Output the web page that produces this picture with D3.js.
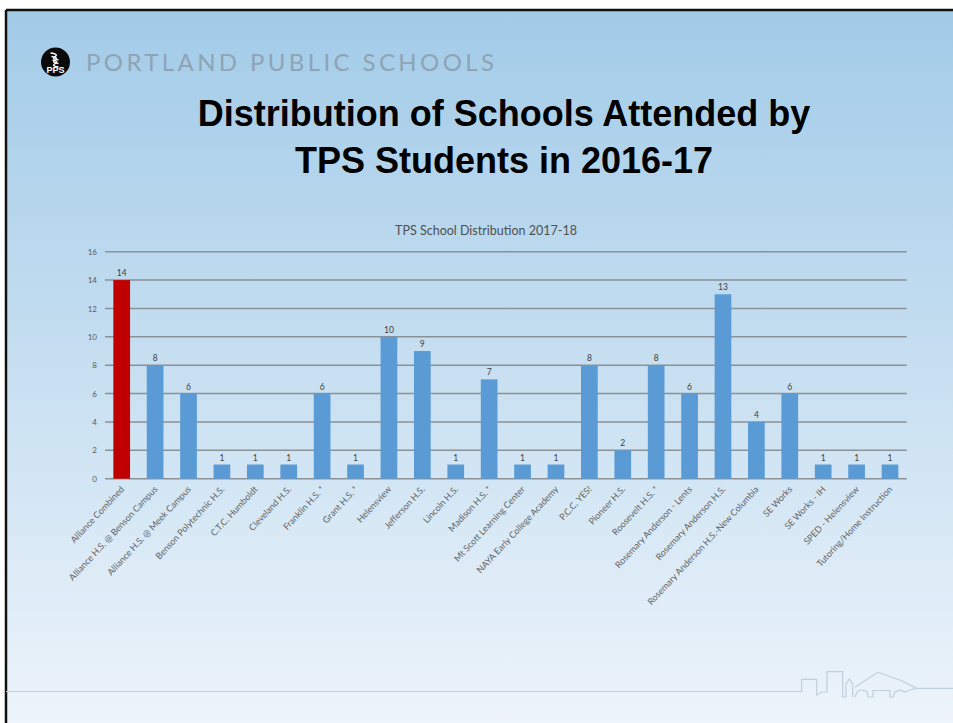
<!DOCTYPE html>
<html>
<head>
<meta charset="utf-8">
<script src="https://cdn.jsdelivr.net/npm/d3@7"></script>
<style>
  html, body { margin: 0; padding: 0; background: #ffffff; }
  svg { display: block; }
</style>
</head>
<body>
<svg id="chart" width="953" height="723"></svg>
<script>
// ---- Data ----
const categories = [
  "Alliance Combined",
  "Alliance H.S. @ Benson Campus",
  "Alliance H.S. @ Meek Campus",
  "Benson Polytechnic H.S.",
  "C.T.C. Humboldt",
  "Cleveland H.S.",
  "Franklin H.S. *",
  "Grant H.S. *",
  "Helensview",
  "Jefferson H.S.",
  "Lincoln H.S.",
  "Madison H.S. *",
  "Mt Scott Learning Center",
  "NAYA Early College Academy",
  "P.C.C. YES!",
  "Pioneer H.S.",
  "Roosevelt H.S. *",
  "Rosemary Anderson - Lents",
  "Rosemary Anderson H.S.",
  "Rosemary Anderson H.S.-New Columbia",
  "SE Works",
  "SE Works - IH",
  "SPED - Helensview",
  "Tutoring/Home Instruction"
];
const values = [14, 8, 6, 1, 1, 1, 6, 1, 10, 9, 1, 7, 1, 1, 8, 2, 8, 6, 13, 4, 6, 1, 1, 1];
const highlighted = ["Alliance Combined"];
const yTicks = [0, 2, 4, 6, 8, 10, 12, 14, 16];
const slideHeader = "PORTLAND PUBLIC SCHOOLS";
const titleLines = ["Distribution of Schools Attended by", "TPS Students in 2016-17"];
const chartTitle = "TPS School Distribution 2017-18";

// ---- Drawing ----
const svg = d3.select("#chart");
const W = 953, H = 723;

const defs = svg.append("defs");
const grad = defs.append("linearGradient").attr("id", "bg")
  .attr("x1", 0).attr("y1", 0).attr("x2", 0).attr("y2", 1);
grad.append("stop").attr("offset", "0").attr("stop-color", "#a2cbe8");
grad.append("stop").attr("offset", "0.45").attr("stop-color", "#c3ddf0");
grad.append("stop").attr("offset", "1").attr("stop-color", "#edf4fb");

// slide background
svg.append("rect").attr("x", 6).attr("y", 10).attr("width", W - 6).attr("height", H - 10)
  .attr("fill", "url(#bg)");
// slide border (left and top)
svg.append("line").attr("x1", 6).attr("x2", W).attr("y1", 10).attr("y2", 10)
  .attr("stroke", "#111").attr("stroke-width", 2.5);
svg.append("line").attr("x1", 6).attr("x2", 6).attr("y1", 10).attr("y2", H)
  .attr("stroke", "#111").attr("stroke-width", 2.5);

// logo
const logo = svg.append("g").attr("transform", "translate(55.5,62)");
logo.append("circle").attr("r", 14.5).attr("fill", "#0a0a0a");
[-5, -1.5, 2].forEach((dy, i) => {
  logo.append("path")
    .attr("d", `M ${-5 + i} ${dy - 4} Q ${4} ${dy - 3} ${-1} ${dy} Q ${-4} ${dy + 2} ${3} ${dy + 3}`)
    .attr("fill", "none").attr("stroke", "#fff").attr("stroke-width", 1.4);
});
logo.append("text").attr("x", 0).attr("y", 11).attr("text-anchor", "middle")
  .attr("font-family", "Liberation Sans, Arial, sans-serif").attr("font-weight", "bold")
  .attr("font-size", 9).attr("fill", "#fff").text("PPS");

// header text
svg.append("text").attr("x", 86).attr("y", 71)
  .attr("font-family", "Lato, 'Open Sans', sans-serif").attr("font-weight", 400)
  .attr("font-size", 24).attr("fill", "#8ea3b4")
  .attr("textLength", 408).attr("lengthAdjust", "spacing")
  .text(slideHeader);

// main title
svg.selectAll("text.title").data(titleLines).join("text")
  .attr("class", "title")
  .attr("x", 504).attr("y", (d, i) => 126 + i * 47)
  .attr("text-anchor", "middle")
  .attr("font-family", "Liberation Sans, Arial, sans-serif").attr("font-weight", "bold")
  .attr("font-size", 36).attr("fill", "#000")
  .text(d => d);

// chart
const x = d3.scaleBand().domain(categories).range([105, 906.7]).paddingInner(0.5).paddingOuter(0.25);
const y = d3.scaleLinear().domain([0, 16]).range([478.7, 251.7]);

svg.append("text").attr("x", 486).attr("y", 235).attr("text-anchor", "middle")
  .attr("font-family", "Lato, 'Open Sans', sans-serif").attr("font-size", 12.5)
  .attr("fill", "#505050").text(chartTitle);

// gridlines
svg.append("g").selectAll("line").data(yTicks).join("line")
  .attr("x1", 105).attr("x2", 906.7)
  .attr("y1", d => y(d)).attr("y2", d => y(d))
  .attr("stroke", "#8a9197").attr("stroke-width", 1.5);

// y axis labels
const yAxis = d3.axisLeft(y).tickValues(yTicks).tickSize(0).tickPadding(8);
const yg = svg.append("g").attr("transform", "translate(105,0)").call(yAxis);
yg.select(".domain").remove();
yg.selectAll("text").attr("font-family", "Lato, 'Open Sans', sans-serif")
  .attr("font-size", 8).attr("fill", "#595959");

// bars
svg.append("g").selectAll("rect").data(categories).join("rect")
  .attr("x", d => x(d)).attr("width", x.bandwidth())
  .attr("y", (d, i) => y(values[i]))
  .attr("height", (d, i) => y(0) - y(values[i]))
  .attr("fill", d => highlighted.includes(d) ? "#c00000" : "#5b9bd5");

// value labels
svg.append("g").selectAll("text").data(categories).join("text")
  .attr("x", d => x(d) + x.bandwidth() / 2)
  .attr("y", (d, i) => y(values[i]) - 4)
  .attr("text-anchor", "middle")
  .attr("font-family", "Lato, 'Open Sans', sans-serif").attr("font-size", 8.5)
  .attr("fill", "#404040")
  .text((d, i) => values[i]);

// x axis labels
const xAxis = d3.axisBottom(x).tickSize(0).tickPadding(0);
const xg = svg.append("g").attr("transform", `translate(0,${y(0)})`).call(xAxis);
xg.select(".domain").remove();
xg.selectAll("text")
  .attr("font-family", "Lato, 'Open Sans', sans-serif").attr("font-size", 9)
  .attr("fill", "#5f6468")
  .attr("text-anchor", "end")
  .attr("dy", null).attr("y", 0)
  .attr("transform", "translate(3,11) rotate(-47)");

// footer line and skyline
svg.append("path")
  .attr("d", "M 6 691.5 L 801.7 691.5 L 801.7 679.3 L 816.7 679.3 L 816.7 695 L 822 692 L 827 692 L 827 671.7 L 842.7 671.7 L 842.7 697 L 846 697 L 846 684 L 849.3 679 L 852.7 684 L 852.7 697")
  .attr("fill", "none").attr("stroke", "#bfcfdc").attr("stroke-width", 1.2);
svg.append("path")
  .attr("d", "M 855 687 L 878 672.3 L 900 680 L 916.7 688.3 L 953 688.3 M 855 697 L 857 692 Q 862 688 867 692 L 868 697 L 873 697 L 873 690.5 L 890 690.5 L 890 697 L 893 697 L 895 692 L 900 690 L 905 692 L 910 690 L 916.7 688.3")
  .attr("fill", "none").attr("stroke", "#bfcfdc").attr("stroke-width", 1.2);
</script>
</body>
</html>
